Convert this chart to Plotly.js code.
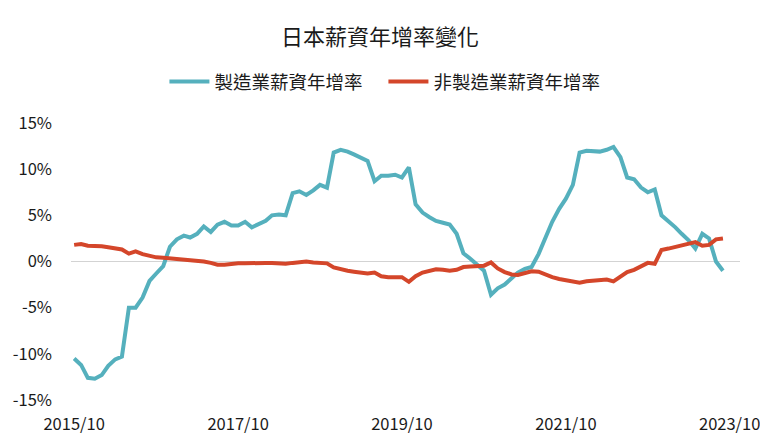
<!DOCTYPE html>
<html>
<head>
<meta charset="utf-8">
<script src="https://cdn.plot.ly/plotly-3.0.1.min.js"></script>
<style>
html,body{margin:0;padding:0;background:#fff;}
#chart{width:760px;height:446px;}
</style>
</head>
<body>
<div id="chart"></div>
<script>
// Monthly data, 2015/10 – 2023/09
const startYear = 2015, startMonth = 10;
const manufacturing = [
  -10.5, -11.2, -12.6, -12.7, -12.3, -11.3, -10.6, -10.3, -5.0, -5.0,
  -3.9, -2.1, -1.3, -0.5, 1.6, 2.4, 2.8, 2.6, 3.0, 3.8,
  3.2, 4.0, 4.3, 3.9, 3.9, 4.3, 3.7, 4.1, 4.4, 5.0,
  5.1, 5.0, 7.4, 7.6, 7.2, 7.7, 8.3, 8.0, 11.8, 12.1,
  11.9, 11.6, 11.2, 10.9, 8.7, 9.3, 9.3, 9.4, 9.1, 10.2,
  6.2, 5.3, 4.8, 4.4, 4.2, 4.0, 3.0, 0.9, 0.3, -0.4,
  -1.0, -3.6, -2.9, -2.5, -1.8, -1.2, -0.8, -0.6, 0.8, 2.5,
  4.3, 5.7, 6.8, 8.3, 11.8, 12.0, 12.0, 11.9, 12.1, 12.4,
  11.3, 9.1, 8.9, 8.0, 7.5, 7.8, 5.0, 4.4, 3.7, 3.0,
  2.3, 1.4, 3.0, 2.5, 0.0, -1.0
];
const nonManufacturing = [
  1.8, 1.9, 1.7, 1.7, 1.65, 1.55, 1.45, 1.3, 0.85, 1.1,
  0.8, 0.6, 0.45, 0.4, 0.35, 0.3, 0.2, 0.1, 0.1, 0.0,
  -0.15, -0.35, -0.35, -0.25, -0.2, -0.2, -0.15, -0.15, -0.15, -0.15,
  -0.2, -0.25, -0.15, -0.1, 0.0, -0.1, -0.15, -0.2, -0.65, -0.85,
  -1.0, -1.1, -1.2, -1.3, -1.2, -1.6, -1.7, -1.7, -1.7, -2.2,
  -1.6, -1.2, -1.0, -0.85, -0.9, -1.0, -0.9, -0.6, -0.55, -0.5,
  -0.45, -0.1, -0.75, -1.15, -1.4, -1.45, -1.3, -1.05, -1.1, -1.45,
  -1.7, -1.9, -2.05, -2.2, -2.3, -2.15, -2.05, -1.95, -1.95, -2.15,
  -1.6, -1.15, -0.9, -0.5, -0.15, -0.25, 1.25, 1.4, 1.6, 1.8,
  2.0, 2.1, 1.7, 1.8, 2.4, 2.5
];
const tickDates = ['2015-10-01', '2017-10-01', '2019-10-01', '2021-10-01', '2023-10-01'];
const tickLabels = ['2015/10', '2017/10', '2019/10', '2021/10', '2023/10'];
const yTickVals = [-15, -10, -5, 0, 5, 10, 15];
const yTickLabels = ['-15%', '-10%', '-5%', '0%', '5%', '10%', '15%'];
const seriesNames = ['製造業薪資年增率', '非製造業薪資年增率'];

const months = manufacturing.map((_, i) => {
  const total = (startMonth - 1) + i;
  const y = startYear + Math.floor(total / 12);
  const m = (total % 12) + 1;
  return y + '-' + String(m).padStart(2, '0') + '-01';
});

const FONT = '"Noto Sans CJK TC", "Noto Sans", sans-serif';

const traces = [
  {x: months, y: manufacturing, name: seriesNames[0], type: 'scatter', mode: 'lines',
   line: {color: '#55B0BD', width: 4}},
  {x: months, y: nonManufacturing, name: seriesNames[1], type: 'scatter', mode: 'lines',
   line: {color: '#D4462A', width: 4}}
];

const layout = {
  width: 760, height: 446,
  margin: {l: 71, r: 20, t: 123, b: 46},
  paper_bgcolor: '#fff', plot_bgcolor: '#fff',
  font: {family: FONT, color: '#1a1a1a'},
  title: {text: '日本薪資年增率變化', font: {size: 22, color: '#1a1a1a', family: FONT},
          x: 0.5, xanchor: 'center', y: 1 - 37/446, yanchor: 'middle', yref: 'container'},
  showlegend: true,
  legend: {orientation: 'h', x: 0.467, xanchor: 'center', y: 1 - 82/446, yanchor: 'middle',
           yref: 'container', font: {size: 18.5, color: '#1a1a1a'}, itemwidth: 40,
           entrywidth: 164, entrywidthmode: 'pixels', traceorder: 'normal'},
  xaxis: {type: 'date', range: ['2015-09-17', '2023-11-16'],
          tickvals: tickDates, ticktext: tickLabels, showgrid: false, zeroline: false,
          showline: false, ticks: '', ticklabelstandoff: 12, ticklabeloverflow: 'allow',
          tickfont: {size: 16.5, color: '#1a1a1a'}, fixedrange: true},
  yaxis: {range: [-15, 15], tickvals: yTickVals, ticktext: yTickLabels, showgrid: false,
          zeroline: true, zerolinecolor: '#d3d3d3', zerolinewidth: 1, showline: false,
          ticks: '', ticklabelstandoff: 18, tickfont: {size: 16.5, color: '#1a1a1a'}, fixedrange: true}
};

Plotly.newPlot('chart', traces, layout, {displayModeBar: false, staticPlot: true});
</script>
</body>
</html>
